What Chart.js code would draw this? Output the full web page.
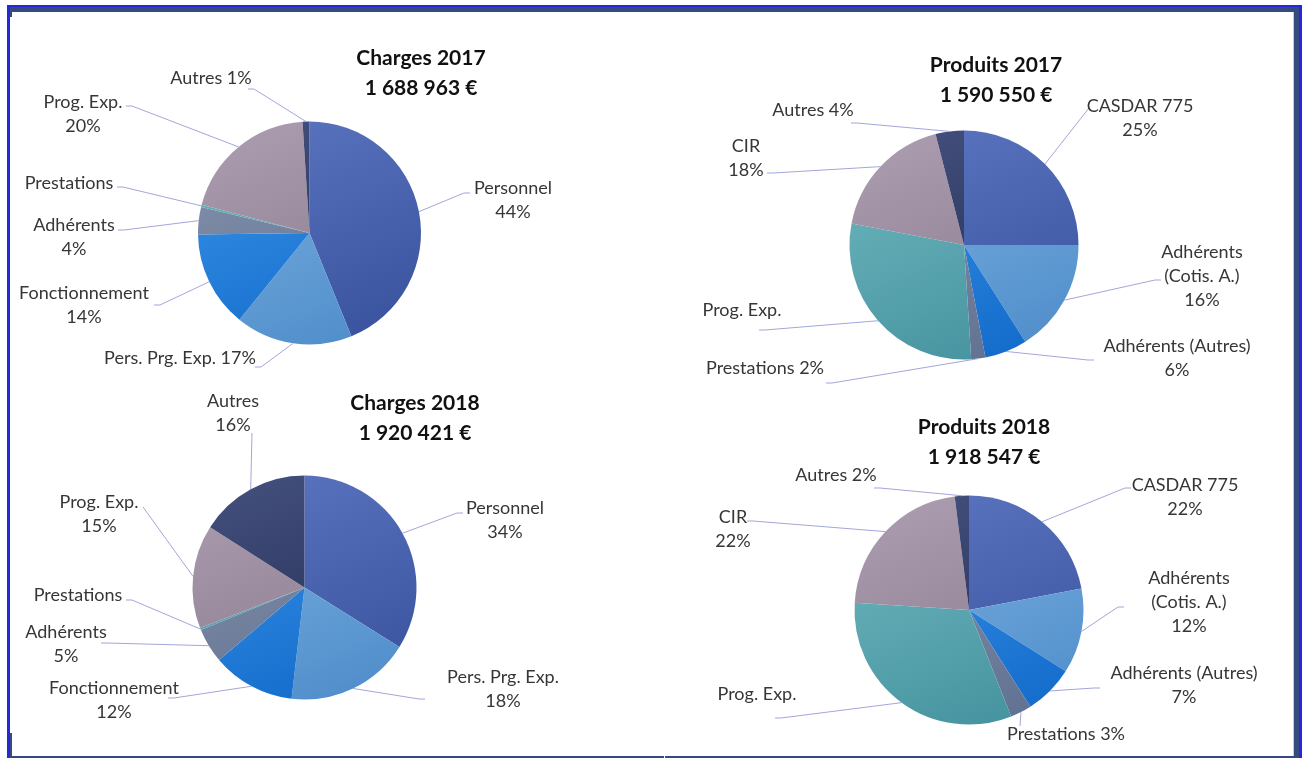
<!DOCTYPE html>
<html>
<head>
<meta charset="utf-8">
<title>Charges et produits 2017 - 2018</title>
<script src="https://cdn.jsdelivr.net/npm/chart.js@4.4.0/dist/chart.umd.min.js"></script>
<style>
  html, body { margin: 0; padding: 0; background: #fff; }
  body { width: 1303px; height: 758px; position: relative; overflow: hidden; }
  canvas { position: absolute; left: 0; top: 0; }
  .frame { position: absolute; }
  .blue { background: #2626dc; }
  .dark { background: #354a7d; }
</style>
</head>
<body>
<!-- panel frame -->
<div class="frame blue" style="left:7px;top:5px;width:1295px;height:2px"></div>
<div class="frame dark" style="left:9px;top:7px;width:1290px;height:5px"></div>
<div class="frame blue" style="left:7px;top:5px;width:3px;height:753px"></div>
<div class="frame dark" style="left:10px;top:12px;width:2px;height:5px"></div>
<div class="frame dark" style="left:10px;top:733px;width:2px;height:25px"></div>
<div class="frame" style="left:1293px;top:12px;width:1px;height:746px;background:#c9cad4"></div>
<div class="frame dark" style="left:1294px;top:7px;width:5px;height:751px"></div>
<div class="frame blue" style="left:1299px;top:5px;width:3px;height:753px"></div>
<div class="frame dark" style="left:12px;top:756px;width:652px;height:2px"></div>
<div class="frame dark" style="left:665px;top:756px;width:629px;height:2px"></div>

<canvas id="charges2017" width="1303" height="758"></canvas>
<canvas id="charges2018" width="1303" height="758"></canvas>
<canvas id="produits2017" width="1303" height="758"></canvas>
<canvas id="produits2018" width="1303" height="758"></canvas>

<script>
// ---- data ----
const chargeCategories = ['Personnel', 'Pers. Prg. Exp.', 'Fonctionnement', 'Adhérents', 'Prestations', 'Prog. Exp.', 'Autres'];
const charges2017 = [44, 17, 14, 4, 0.3, 20, 1];
const charges2018 = [34, 18, 12, 5, 0.3, 15, 16];

const produitCategories = ['CASDAR 775', 'Adhérents (Cotis. A.)', 'Adhérents (Autres)', 'Prestations', 'Prog. Exp.', 'CIR', 'Autres'];
const produits2017 = [25, 16, 6, 2, 29, 18, 4];
const produits2018 = [22, 12, 7, 3, 32, 22, 2];

const chartTitles = ['Charges 2017', 'Charges 2018', 'Produits 2017', 'Produits 2018'];
const chartTotals = ['1 688 963 €', '1 920 421 €', '1 590 550 €', '1 918 547 €'];

// ---- style ----
const W = 1303, H = 758;
const palette = [
  ['#5a73bf', '#3a539f'],
  ['#7bb0e0', '#508ecb'],
  ['#3892e6', '#136bcb'],
  ['#8492ab', '#617191'],
  ['#6db5bd', '#45939f'],
  ['#aa9cae', '#897b8d'],
  ['#434f7b', '#212b55']
];
const textColor = '#363636';
const leaderColor = '#a2a6da';
const labelFont = '18px Lato';
const titleFont = '700 21px Lato';
const lineGap = 24;

// pie centre / radius and where each callout sits (mode: row | stack | wrap | bare)
const layouts = {
  charges2017: {
    pie: { cx: 309.5, cy: 233, r: 111.5 },
    title: { x: 421, y: 58 },
    callouts: [
      { x: 513, y: 188, mode: 'stack', lx: 470, ly: 193 },
      { x: 180, y: 358, mode: 'row', lx: 255, ly: 367 },
      { x: 84, y: 293, mode: 'stack', lx: 154, ly: 305 },
      { x: 74, y: 225, mode: 'stack', lx: 118, ly: 230 },
      { x: 69, y: 183, mode: 'bare', lx: 117, ly: 187 },
      { x: 83, y: 102, mode: 'stack', lx: 126, ly: 106 },
      { x: 211, y: 78, mode: 'row', lx: 248, ly: 89 }
    ]
  },
  charges2018: {
    pie: { cx: 304.5, cy: 587.5, r: 112 },
    title: { x: 415, y: 403 },
    callouts: [
      { x: 505, y: 508, mode: 'stack', lx: 463, ly: 513 },
      { x: 503, y: 677, mode: 'stack', lx: 425, ly: 699 },
      { x: 114, y: 688, mode: 'stack', lx: 168, ly: 698 },
      { x: 66, y: 632, mode: 'stack', lx: 101, ly: 643 },
      { x: 78, y: 595, mode: 'bare', lx: 126, ly: 600 },
      { x: 99, y: 502, mode: 'stack', lx: 143, ly: 507 },
      { x: 233, y: 401, mode: 'stack', lx: 252, ly: 433 }
    ]
  },
  produits2017: {
    pie: { cx: 964, cy: 245, r: 114.5 },
    title: { x: 996, y: 65 },
    callouts: [
      { x: 1140, y: 106, mode: 'stack', lx: 1089, ly: 108 },
      { x: 1202, y: 252, mode: 'wrap', lx: 1161, ly: 280 },
      { x: 1177, y: 346, mode: 'stack', lx: 1094, ly: 360 },
      { x: 765, y: 368, mode: 'row', lx: 826, ly: 383 },
      { x: 742, y: 310, mode: 'bare', lx: 759, ly: 330 },
      { x: 746, y: 146, mode: 'stack', lx: 767, ly: 173 },
      { x: 813, y: 110, mode: 'row', lx: 851, ly: 123 }
    ]
  },
  produits2018: {
    pie: { cx: 969, cy: 610, r: 114.5 },
    title: { x: 984, y: 427 },
    callouts: [
      { x: 1185, y: 485, mode: 'stack', lx: 1131, ly: 488 },
      { x: 1189, y: 578, mode: 'wrap', lx: 1124, ly: 607 },
      { x: 1184, y: 673, mode: 'stack', lx: 1100, ly: 688 },
      { x: 1066, y: 734, mode: 'row', lx: 1020, ly: 726 },
      { x: 757, y: 694, mode: 'bare', lx: 775, ly: 718 },
      { x: 733, y: 517, mode: 'stack', lx: 747, ly: 521 },
      { x: 836, y: 475, mode: 'row', lx: 874, ly: 488 }
    ]
  }
};

function sliceFill(ctx) {
  const pair = palette[ctx.dataIndex % palette.length];
  const area = ctx.chart.chartArea;
  if (!area) return pair[0];
  const w = area.right - area.left;
  const g = ctx.chart.ctx.createLinearGradient(area.left + w * 0.3, area.top, area.right - w * 0.3, area.bottom);
  g.addColorStop(0, pair[0]);
  g.addColorStop(1, pair[1]);
  return g;
}

function labelLines(name, share, mode) {
  const pct = Math.round(share) + '%';
  if (mode === 'row') return [name + ' ' + pct];
  if (mode === 'stack') return [name, pct];
  if (mode === 'wrap') return name.split(/ (?=\()/).concat([pct]);
  return [name];
}

// titles, leader lines and slice labels
function calloutPlugin(title, total, layout) {
  return {
    id: 'callouts',
    afterDatasetsDraw(chart) {
      const c = chart.ctx;
      const values = chart.data.datasets[0].data;
      const sum = values.reduce((a, b) => a + b, 0);
      const arcs = chart.getDatasetMeta(0).data;
      c.save();
      c.textAlign = 'center';
      c.textBaseline = 'middle';

      arcs.forEach((arc, i) => {
        const spot = layout.callouts[i];
        const p = arc.getProps(['x', 'y', 'startAngle', 'endAngle', 'outerRadius'], true);
        const mid = (p.startAngle + p.endAngle) / 2;
        const ex = p.x + Math.cos(mid) * p.outerRadius;
        const ey = p.y + Math.sin(mid) * p.outerRadius;

        c.strokeStyle = leaderColor;
        c.lineWidth = 1;
        c.beginPath();
        c.moveTo(spot.lx, spot.ly);
        if (Math.abs(ex - spot.lx) > Math.abs(ey - spot.ly)) {
          c.lineTo(spot.lx + Math.sign(ex - spot.lx) * 6, spot.ly);
        }
        c.lineTo(ex, ey);
        c.stroke();

        c.fillStyle = textColor;
        c.font = labelFont;
        labelLines(chart.data.labels[i], values[i] / sum * 100, spot.mode).forEach((line, k) => {
          c.fillText(line, spot.x, spot.y + k * lineGap);
        });
      });

      c.fillStyle = '#111';
      c.font = titleFont;
      c.fillText(title, layout.title.x, layout.title.y);
      c.fillText(total, layout.title.x, layout.title.y + 30);
      c.restore();
    }
  };
}

function buildPie(id, categories, values, title, total) {
  const layout = layouts[id];
  const { cx, cy, r } = layout.pie;
  return new Chart(document.getElementById(id), {
    type: 'pie',
    data: {
      labels: categories,
      datasets: [{ data: values, backgroundColor: sliceFill, borderWidth: 0 }]
    },
    options: {
      responsive: false,
      animation: false,
      events: [],
      layout: {
        padding: { left: cx - r, top: cy - r, right: W - cx - r, bottom: H - cy - r }
      },
      plugins: {
        legend: { display: false },
        tooltip: { enabled: false }
      }
    },
    plugins: [calloutPlugin(title, total, layout)]
  });
}

buildPie('charges2017', chargeCategories, charges2017, chartTitles[0], chartTotals[0]);
buildPie('charges2018', chargeCategories, charges2018, chartTitles[1], chartTotals[1]);
buildPie('produits2017', produitCategories, produits2017, chartTitles[2], chartTotals[2]);
buildPie('produits2018', produitCategories, produits2018, chartTitles[3], chartTotals[3]);
</script>
</body>
</html>
